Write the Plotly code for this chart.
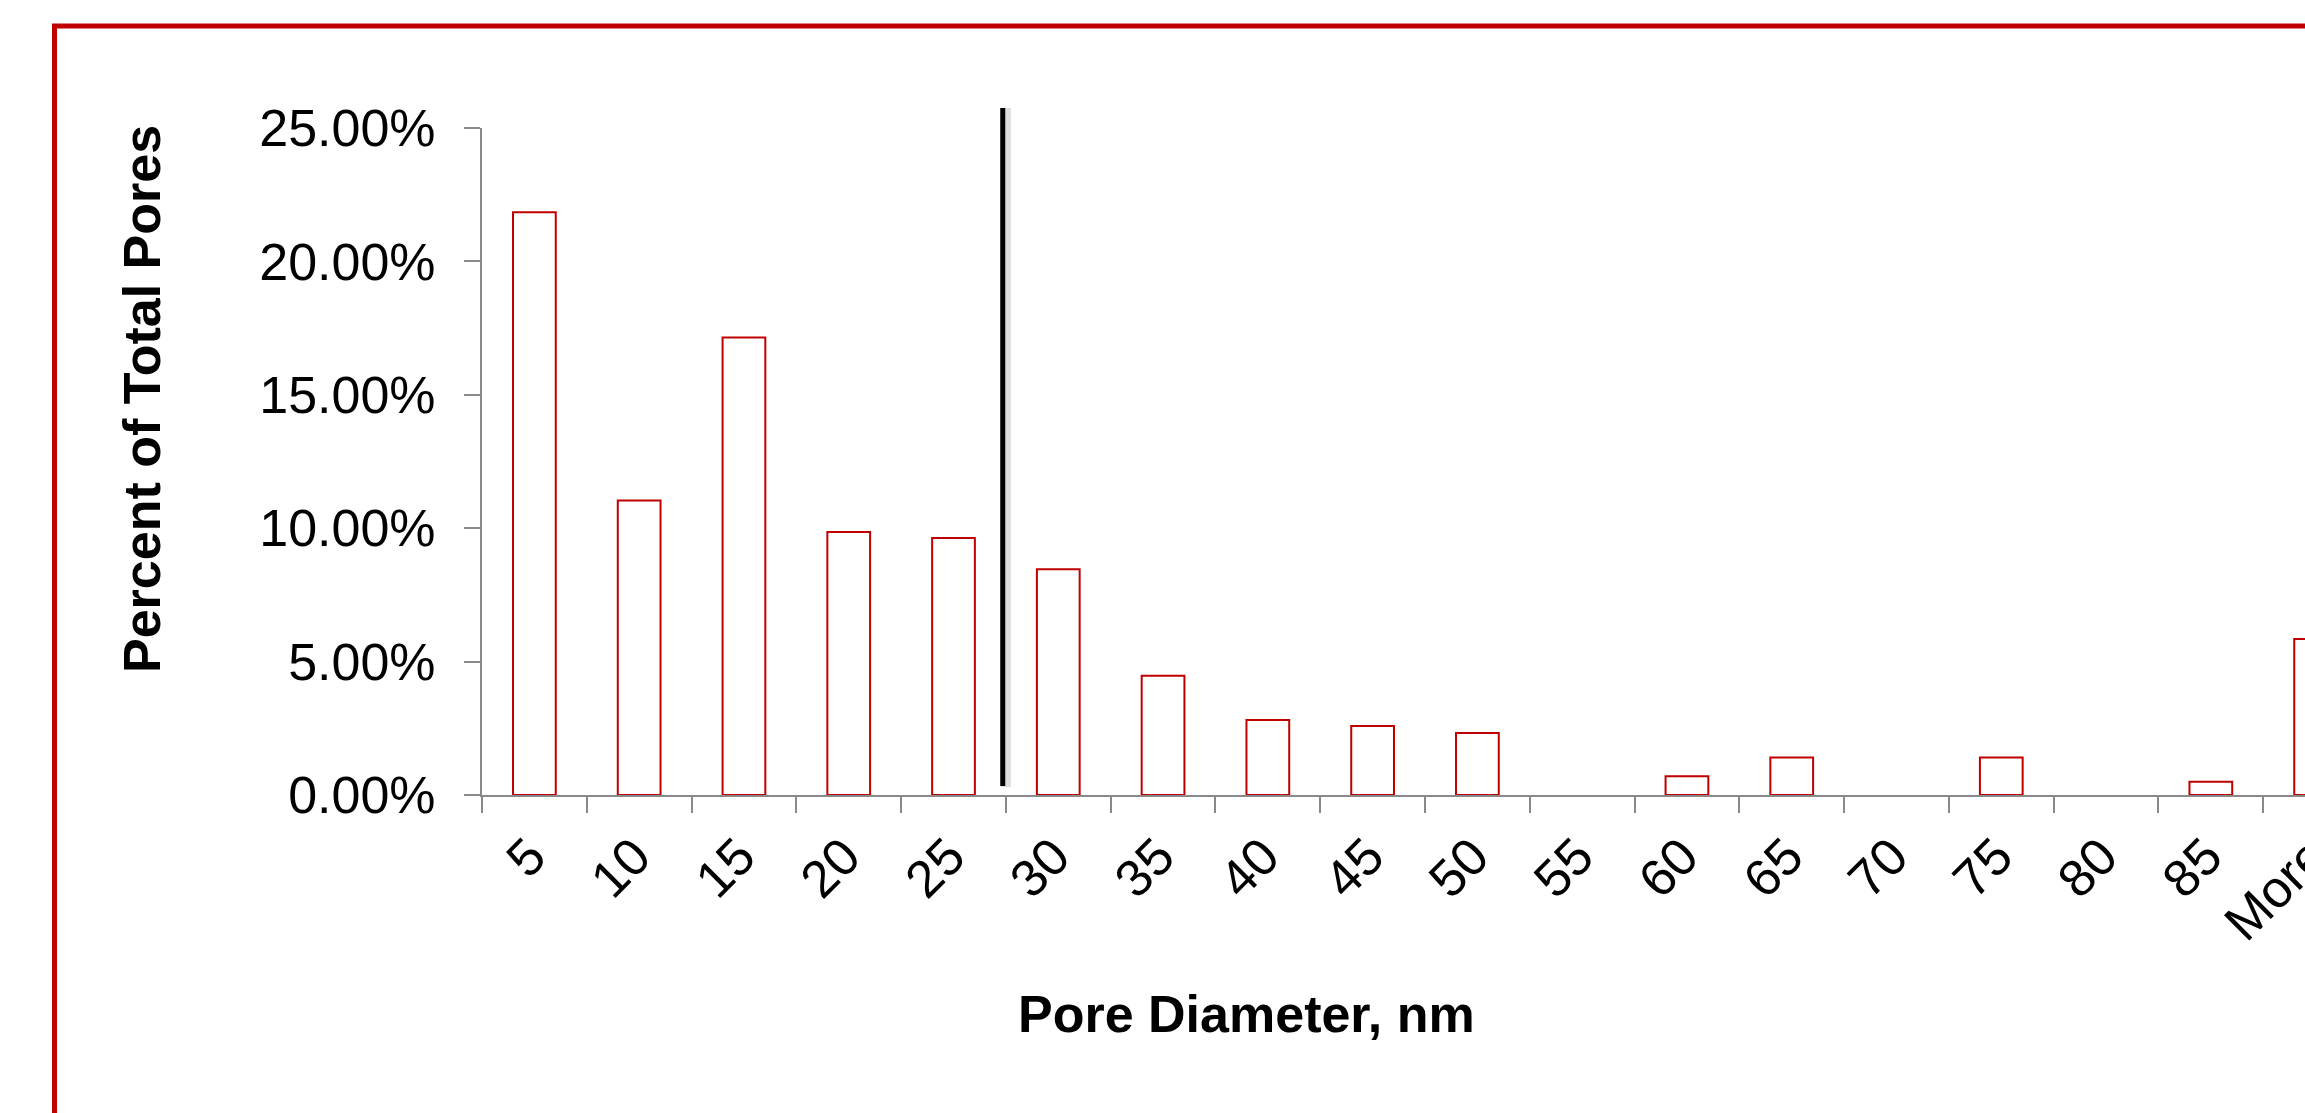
import plotly.graph_objects as go

# ---- data ----
categories = ["5", "10", "15", "20", "25", "30", "35", "40", "45", "50",
              "55", "60", "65", "70", "75", "80", "85", "More"]
percent_of_pores = [21.84, 11.04, 17.15, 9.86, 9.63, 8.46, 4.47, 2.81, 2.59, 2.32,
                    0.0, 0.70, 1.41, 0.0, 1.41, 0.0, 0.50, 5.85]
y_ticks = [0.0, 0.05, 0.10, 0.15, 0.20, 0.25]
x_title = "Pore Diameter, nm"
y_title = "Percent of Total Pores"

# ---- layout geometry (pixels) ----
W, H = 2430, 1113
L, T = 482, 128
PW, PH = 1886, 667
R = W - L - PW
B = H - T - PH

RED = "#C00000"
GRAY = "#898989"
FONT = "Liberation Sans, Arial, sans-serif"


def px_x(px):
    return (px - L) / PW


def px_y(py):
    return (T + PH - py) / PH


fig = go.Figure()
fig.add_trace(go.Bar(
    x=categories,
    y=[v / 100 for v in percent_of_pores],
    marker=dict(color="white",
                line=dict(color=RED, width=[2 if v > 0 else 0 for v in percent_of_pores])),
    width=0.408,
    showlegend=False,
    hoverinfo="x+y",
))

# red chart-area border (extends beyond the visible window on the right and bottom)
fig.add_shape(type="rect", xref="paper", yref="paper",
              x0=px_x(54.5), x1=px_x(W - 54.5), y0=px_y(1300), y1=px_y(26),
              line=dict(color=RED, width=5), fillcolor="rgba(0,0,0,0)", layer="below")

# vertical divider line with soft shadow
fig.add_shape(type="line", xref="x", yref="paper",
              x0=4.5, x1=4.5, y0=px_y(787), y1=px_y(108),
              line=dict(color="rgba(0,0,0,0.13)", width=10), layer="above")
fig.add_shape(type="line", xref="x", yref="paper",
              x0=4.47, x1=4.47, y0=px_y(786), y1=px_y(108),
              line=dict(color="black", width=5), layer="above")

fig.add_annotation(text=y_title, xref="paper", yref="paper",
                   x=px_x(142), y=px_y(399), xanchor="center", yanchor="middle",
                   textangle=-90, showarrow=False,
                   font=dict(family=FONT, size=52, color="black", weight="bold"))
fig.add_annotation(text=x_title, xref="paper", yref="paper",
                   x=px_x(1246), y=px_y(1014), xanchor="center", yanchor="middle",
                   showarrow=False,
                   font=dict(family=FONT, size=52, color="black", weight="bold"))

fig.update_layout(
    width=W, height=H,
    margin=dict(l=L, r=R, t=T, b=B, pad=0),
    paper_bgcolor="white", plot_bgcolor="white",
    bargap=0.592,
    font=dict(family=FONT, size=52, color="black"),
    xaxis=dict(
        type="category", categoryorder="array", categoryarray=categories,
        range=[-0.5, len(categories) - 0.5],
        tickson="boundaries", ticks="outside", ticklen=16, tickwidth=2, tickcolor=GRAY,
        showline=True, linecolor=GRAY, linewidth=2, layer="above traces",
        showgrid=False, zeroline=False,
        tickangle=-45, ticklabelstandoff=8, ticklabelshift=-4,
        tickfont=dict(family=FONT, size=52, color="black"),
    ),
    yaxis=dict(
        range=[0, 0.25], tickvals=y_ticks, tickformat=".2%",
        ticks="outside", ticklen=16, tickwidth=2, tickcolor=GRAY,
        showline=True, linecolor=GRAY, linewidth=2, layer="above traces",
        showgrid=False, zeroline=False, ticklabelstandoff=18,
        tickfont=dict(family=FONT, size=52, color="black"),
    ),
)

fig.write_html(
    "out.html",
    config={"displayModeBar": False},
    post_script="document.body.style.margin='0';document.body.style.overflow='hidden';"
                "document.documentElement.style.overflow='hidden';",
)
